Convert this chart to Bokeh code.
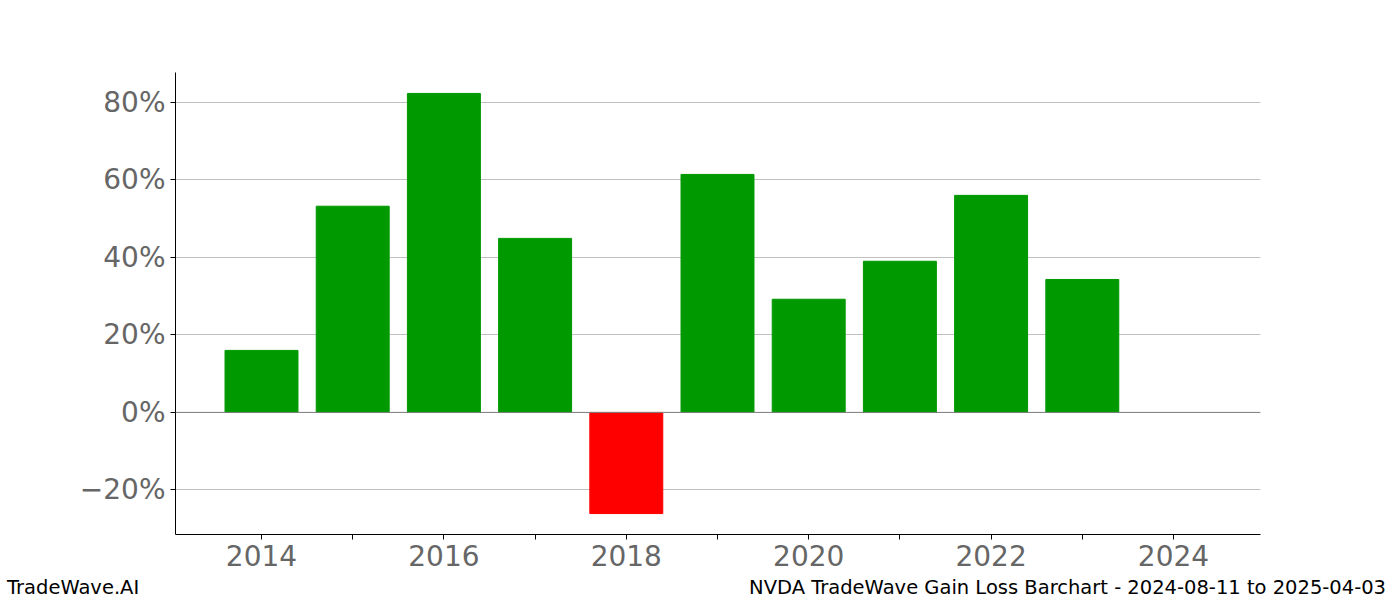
from bokeh.plotting import figure
from bokeh.layouts import column
from bokeh.models import FixedTicker, Range1d, Span, ColumnDataSource, Div
from bokeh.embed import file_html
from bokeh.resources import INLINE

years = [2014, 2015, 2016, 2017, 2018, 2019, 2020, 2021, 2022, 2023]
gains = [16.0, 53.2, 82.3, 44.9, -26.1, 61.4, 29.2, 39.0, 56.0, 34.3]
y_ticks = [-20, 0, 20, 40, 60, 80]
x_ticks = list(range(2014, 2025))
title_left = "TradeWave.AI"
title_right = "NVDA TradeWave Gain Loss Barchart - 2024-08-11 to 2025-04-03"

colors = ["#009900" if g >= 0 else "#ff0000" for g in gains]
src = ColumnDataSource(dict(x=years, top=gains, color=colors))

FONT = "DejaVu Sans"
p = figure(width=1400, height=574, output_backend="svg", toolbar_location=None,
           x_range=Range1d(2013.057, 2024.954), y_range=Range1d(-31.5, 87.7),
           min_border_left=175, min_border_right=140, min_border_top=72,
           min_border_bottom=40)
p.outline_line_color = None
p.xgrid.grid_line_color = None
p.ygrid.grid_line_color = "#c0c0c0"
p.ygrid.grid_line_width = 1
p.ygrid.ticker = FixedTicker(ticks=y_ticks)

p.vbar(x="x", top="top", bottom=0, width=0.8, color="color", source=src)
p.add_layout(Span(location=0, dimension="width", line_color="#808080", line_width=1))

for ax in (p.xaxis[0], p.yaxis[0]):
    ax.axis_line_color = "black"
    ax.axis_line_width = 1
    ax.major_tick_line_color = "black"
    ax.major_tick_out = 5
    ax.major_tick_in = 0
    ax.minor_tick_line_color = None
    ax.major_label_text_font = FONT
    ax.major_label_text_font_size = "28px"
    ax.major_label_text_color = "#666666"
    ax.major_label_standoff = 5

p.xaxis.ticker = FixedTicker(ticks=x_ticks)
p.xaxis.major_label_overrides = {y: (str(y) if y % 2 == 0 else "") for y in x_ticks}
p.yaxis.ticker = FixedTicker(ticks=y_ticks)
p.yaxis.major_label_overrides = {t: (f"{t}%" if t >= 0 else f"\u2212{abs(t)}%") for t in y_ticks}

span_style = "position:absolute;top:4px;line-height:20px;font-family:'DejaVu Sans';font-size:19.5px;color:black;white-space:nowrap;"
footer = Div(
    text=(f'<div style="position:relative;width:1400px;height:26px;">'
          f'<span style="{span_style}left:7px;">{title_left}</span>'
          f'<span style="{span_style}right:14px;">{title_right}</span></div>'),
    width=1400, height=26, margin=0)

open("out.html", "w").write(file_html(column(p, footer, spacing=0), INLINE))
